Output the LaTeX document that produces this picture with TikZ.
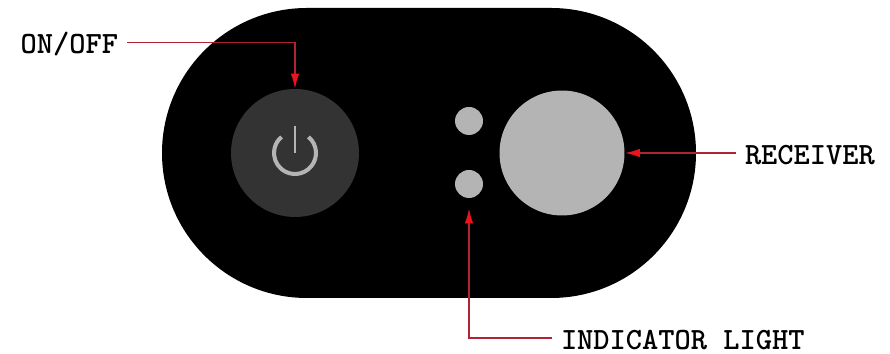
\documentclass[tikz,border=0pt]{standalone}
\usetikzlibrary{arrows.meta}
\definecolor{leadred}{RGB}{178,34,50}
\definecolor{tipred}{RGB}{235,20,30}
\definecolor{lampgrey}{RGB}{180,180,180}
\definecolor{buttongrey}{RGB}{51,51,51}
\tikzset{
	lamp/.style={circle, fill=lampgrey, inner sep=0pt},
	callout/.style={font=\fontsize{17.6}{20}\ttfamily\bfseries, inner sep=0pt, outer sep=.18cm, text height=.46cm, text depth=0pt},
	lead/.style={leadred, line width=.9pt, -{Latex[length=.3cm, width=.17cm, color=tipred]}},
	powersign/.style={lampgrey, line width=2.3pt}
}
\begin{document}
\begin{tikzpicture}[x=.02cm, y=.02cm]
	\useasboundingbox (0,0) rectangle (890,354);
	\fill[black, rounded corners=2.9cm] (162,56) rectangle (696,346);
	
	\node[circle, fill=buttongrey, inner sep=0pt, minimum size=2.56cm] (button) at (295,201) {};
	\draw[powersign] (button.center) ++(50:21) arc[start angle=50, end angle=-230, radius=21];
	\draw[powersign, line width=1.7pt] (button.center) ++(0,27) -- ++(0,-27);
	
	\node[lamp, minimum size=.56cm] (lampA) at (469,233) {};
	\node[lamp, minimum size=.56cm] (lampB) at (469,170) {};
	\node[lamp, minimum size=2.5cm] (receiver) at (562,201) {};
	
	\node[callout, anchor=east] (onoff) at (127,311.5) {ON/OFF};
	\node[callout, anchor=west] (receiverlabel) at (736,201) {RECEIVER};
	\node[callout, anchor=west] (lamplabel) at (552,16) {INDICATOR LIGHT};
	
	\draw[lead] (onoff.east) -| (button.north);
	\draw[lead] (receiverlabel.west) -- (receiver.east);
	\draw[lead, shorten >=.2cm] (lamplabel.west) -| (lampB.south);
\end{tikzpicture}
\end{document}
